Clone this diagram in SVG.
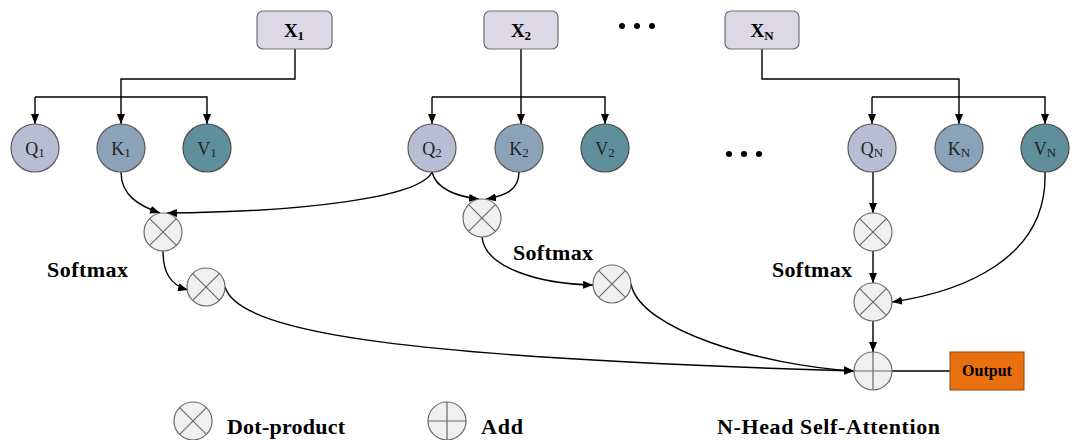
<svg xmlns="http://www.w3.org/2000/svg" width="1077" height="440" viewBox="0 0 1077 440">
<defs>
<marker id="ah" markerWidth="10" markerHeight="8" refX="10" refY="4" orient="auto" markerUnits="userSpaceOnUse">
<path d="M0,0 L10,4 L0,8 Z" fill="#000"/>
</marker>
<g id="mul"><circle r="19" fill="#f0f0f0" stroke="#6a6a6a" stroke-width="1.2"/><path d="M-13.4,-13.4 L13.4,13.4 M13.4,-13.4 L-13.4,13.4" stroke="#6a6a6a" stroke-width="1.2"/></g>
<g id="add"><circle r="19" fill="#f0f0f0" stroke="#6a6a6a" stroke-width="1.2"/><path d="M0,-19 L0,19 M-19,0 L19,0" stroke="#6a6a6a" stroke-width="1.2"/></g>
</defs>
<style>
.x{fill:#dcd8e6;stroke:#707070;stroke-width:1.2}
.q{fill:#b8bdd3;stroke:#5a5a5a;stroke-width:1.2}
.k{fill:#8ba3b8;stroke:#5a5a5a;stroke-width:1.2}
.v{fill:#5f8f9b;stroke:#4a4a4a;stroke-width:1.2}
.c{fill:none;stroke:#000;stroke-width:1.4}
.a{marker-end:url(#ah)}
.t{font-family:"Liberation Serif","Times New Roman",serif;fill:#000}
.b{font-weight:bold}
.lbl{font-family:"Liberation Serif","Times New Roman",serif;font-size:18px;fill:#222;text-anchor:middle}
.dot{fill:#000}
</style>
<rect width="1077" height="440" fill="#fff"/>
<g id="connectors">
<path class="c" d="M295,49 V79 H121 V124" marker-end="url(#ah)"/>
<path class="c a" d="M35,97 H207 V124"/>
<path class="c a" d="M35,97 V124"/>
<path class="c a" d="M521,49 V124"/>
<path class="c a" d="M432,97 H605 V124"/>
<path class="c a" d="M432,97 V124"/>
<path class="c" d="M762,49 V79 H959 V124" marker-end="url(#ah)"/>
<path class="c a" d="M872,97 H1045 V124"/>
<path class="c a" d="M872,97 V124"/>
<path class="c a" d="M121,172 C121,196 140,206 160,213"/>
<path class="c a" d="M432,172 C420,198 300,212 167,213"/>
<path class="c a" d="M432,172 C436,190 460,197 479,199"/>
<path class="c a" d="M519,172 C519,190 505,196 486,199"/>
<path class="c a" d="M163,251 C163,272 170,285 188,290"/>
<path class="c a" d="M225,287 C240,335 420,358 854,371"/>
<path class="c a" d="M482,237 C485,268 540,284 593,285"/>
<path class="c a" d="M631,284 C640,330 760,365 854,371"/>
<path class="c a" d="M873,172 V213"/>
<path class="c a" d="M873,251 V283"/>
<path class="c a" d="M873,321 V352"/>
<path class="c a" d="M1045,172 C1048,260 960,292 892,302"/>
<path class="c" d="M892,371 H950"/>
</g>
<g id="X1"><rect class="x" x="257" y="11" width="75" height="38" rx="6"/><text class="t b" x="294" y="37" font-size="19" text-anchor="middle">X<tspan font-size="13" dy="3">1</tspan></text></g>
<g id="X2"><rect class="x" x="484" y="11" width="74" height="38" rx="6"/><text class="t b" x="521" y="37" font-size="19" text-anchor="middle">X<tspan font-size="13" dy="3">2</tspan></text></g>
<g id="XN"><rect class="x" x="725" y="11" width="74" height="38" rx="6"/><text class="t b" x="762" y="37" font-size="19" text-anchor="middle">X<tspan font-size="13" dy="3">N</tspan></text></g>
<g id="dots1"><circle class="dot" cx="622" cy="26" r="3"/><circle class="dot" cx="637" cy="26" r="3"/><circle class="dot" cx="652" cy="26" r="3"/></g>
<g id="dots2"><circle class="dot" cx="729" cy="154" r="3"/><circle class="dot" cx="744" cy="154" r="3"/><circle class="dot" cx="759" cy="154" r="3"/></g>
<g id="Q1"><circle class="q" cx="35" cy="148" r="24"/><text class="lbl" x="35" y="155">Q<tspan font-size="13" dy="2">1</tspan></text></g>
<g id="K1"><circle class="k" cx="121" cy="148" r="24"/><text class="lbl" x="121" y="155">K<tspan font-size="13" dy="2">1</tspan></text></g>
<g id="V1"><circle class="v" cx="207" cy="148" r="24"/><text class="lbl" x="207" y="155">V<tspan font-size="13" dy="2">1</tspan></text></g>
<g id="Q2"><circle class="q" cx="432" cy="148" r="24"/><text class="lbl" x="432" y="155">Q<tspan font-size="13" dy="2">2</tspan></text></g>
<g id="K2"><circle class="k" cx="519" cy="148" r="24"/><text class="lbl" x="519" y="155">K<tspan font-size="13" dy="2">2</tspan></text></g>
<g id="V2"><circle class="v" cx="605" cy="148" r="24"/><text class="lbl" x="605" y="155">V<tspan font-size="13" dy="2">2</tspan></text></g>
<g id="QN"><circle class="q" cx="872" cy="148" r="24"/><text class="lbl" x="872" y="155">Q<tspan font-size="13" dy="2">N</tspan></text></g>
<g id="KN"><circle class="k" cx="959" cy="148" r="24"/><text class="lbl" x="959" y="155">K<tspan font-size="13" dy="2">N</tspan></text></g>
<g id="VN"><circle class="v" cx="1045" cy="148" r="24"/><text class="lbl" x="1045" y="155">V<tspan font-size="13" dy="2">N</tspan></text></g>
<g id="M1a"><use href="#mul" x="163" y="232"/></g>
<g id="M1b"><use href="#mul" x="206" y="287"/></g>
<g id="M2a"><use href="#mul" x="482" y="218"/></g>
<g id="M2b"><use href="#mul" x="612" y="284"/></g>
<g id="MNa"><use href="#mul" x="873" y="232"/></g>
<g id="MNb"><use href="#mul" x="873" y="302"/></g>
<g id="ADD"><use href="#add" x="873" y="371"/></g>
<g id="Output"><rect x="950" y="352" width="74" height="38" fill="#e8700f" stroke="#8a4a10" stroke-width="1"/><text class="t b" x="987" y="376" font-size="16" text-anchor="middle">Output</text></g>
<g id="labels">
<text class="t b" x="47" y="277" font-size="22" textLength="81">Softmax</text>
<text class="t b" x="513" y="260" font-size="22" textLength="80">Softmax</text>
<text class="t b" x="772" y="277" font-size="22" textLength="80">Softmax</text>
</g>
<g id="legend">
<use href="#mul" x="193" y="421"/>
<text class="t b" x="227" y="434" font-size="22" textLength="118">Dot-product</text>
<use href="#add" x="447" y="421"/>
<text class="t b" x="481" y="434" font-size="22" textLength="42">Add</text>
<text class="t b" x="717" y="434" font-size="22" textLength="223">N-Head Self-Attention</text>
</g>
</svg>
